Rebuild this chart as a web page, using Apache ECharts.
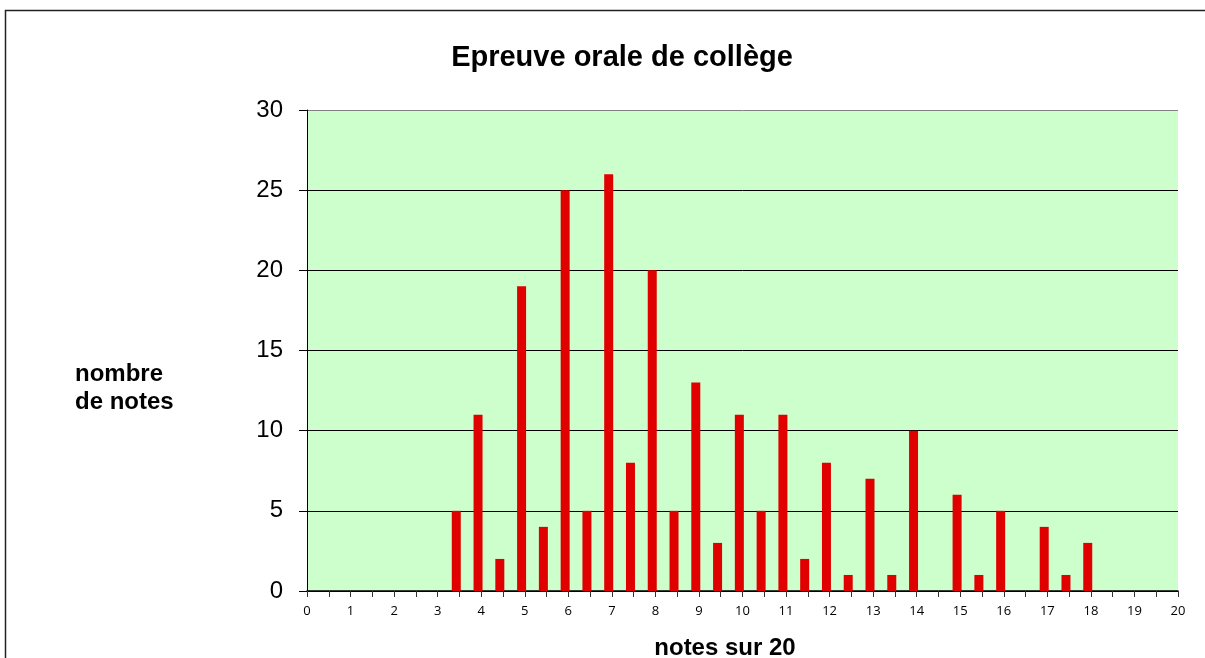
<!DOCTYPE html>
<html>
<head>
<meta charset="utf-8">
<script src="https://cdn.jsdelivr.net/npm/echarts@6/dist/echarts.min.js"></script>
<style>
  html, body { margin: 0; padding: 0; background: #fff; }
  #chart { width: 1205px; height: 658px; }
</style>
</head>
<body>
<div id="chart"></div>
<script>
// notes de 0 a 20 par pas de 0.5
const notes = ['0','0.5','1','1.5','2','2.5','3','3.5','4','4.5','5','5.5','6','6.5','7','7.5',
  '8','8.5','9','9.5','10','10.5','11','11.5','12','12.5','13','13.5','14','14.5','15','15.5',
  '16','16.5','17','17.5','18','18.5','19','19.5','20'];
const nombreNotes = [0,0,0,0,0,0,0,5,11,2,19,4,25,5,26,8,
  20,5,13,3,11,5,11,2,8,1,7,1,10,0,6,1,
  5,0,4,1,3,0,0,0,0];
const yTicks = { min: 0, max: 30, interval: 5 };

const boldText = { fontFamily: 'Liberation Sans', fontWeight: 'bold', color: '#000' };

const chart = echarts.init(document.getElementById('chart'));
chart.setOption({
  animation: false,
  graphic: [{
    type: 'rect',
    shape: { x: 5.5, y: 10.5, width: 1400, height: 800 },
    style: { fill: 'none', stroke: '#222', lineWidth: 1.5 },
    silent: true
  }],
  title: [
    {
      text: 'Epreuve orale de collège',
      left: 617, top: 38, textAlign: 'center',
      textStyle: { ...boldText, fontSize: 29 }
    },
    {
      // titre axe y
      text: 'nombre\nde notes',
      left: 70, top: 355,
      textStyle: { ...boldText, fontSize: 24, lineHeight: 28 }
    },
    {
      // titre axe x
      text: 'notes sur 20',
      left: 720, top: 631, textAlign: 'center',
      textStyle: { ...boldText, fontSize: 24 }
    }
  ],
  grid: {
    left: 307, right: 27, top: 110, bottom: 67,
    outerBoundsMode: 'none',
    containLabel: false,
    show: true, backgroundColor: '#CCFFCC', borderWidth: 0
  },
  xAxis: {
    type: 'category',
    data: notes,
    boundaryGap: false,
    axisLine: { lineStyle: { color: '#000', width: 1.5 } },
    axisTick: { interval: 0, length: 6, lineStyle: { color: '#333' } },
    axisLabel: {
      interval: 1, margin: 14,
      fontFamily: 'Open Sans', fontSize: 13, color: '#000'
    },
    splitLine: { show: false }
  },
  yAxis: {
    type: 'value',
    min: yTicks.min, max: yTicks.max, interval: yTicks.interval,
    axisLine: { show: true, lineStyle: { color: '#000', width: 1 } },
    axisTick: { show: true, length: 8, lineStyle: { color: '#000' } },
    axisLabel: { margin: 24, fontFamily: 'Liberation Sans', fontSize: 24, color: '#000' },
    splitLine: { show: true, lineStyle: { color: ['#000','#000','#000','#000','#000','#000','#808080'], width: 1 } }
  },
  series: [
    {
      type: 'bar',
      data: nombreNotes,
      barWidth: 9,
      barGap: '-30%',
      itemStyle: { color: '#E00000' }
    },
    {
      // serie vide pour decaler les barres a gauche des graduations
      type: 'bar',
      data: [],
      barWidth: 9,
      barGap: '-30%'
    }
  ]
});
</script>
</body>
</html>
